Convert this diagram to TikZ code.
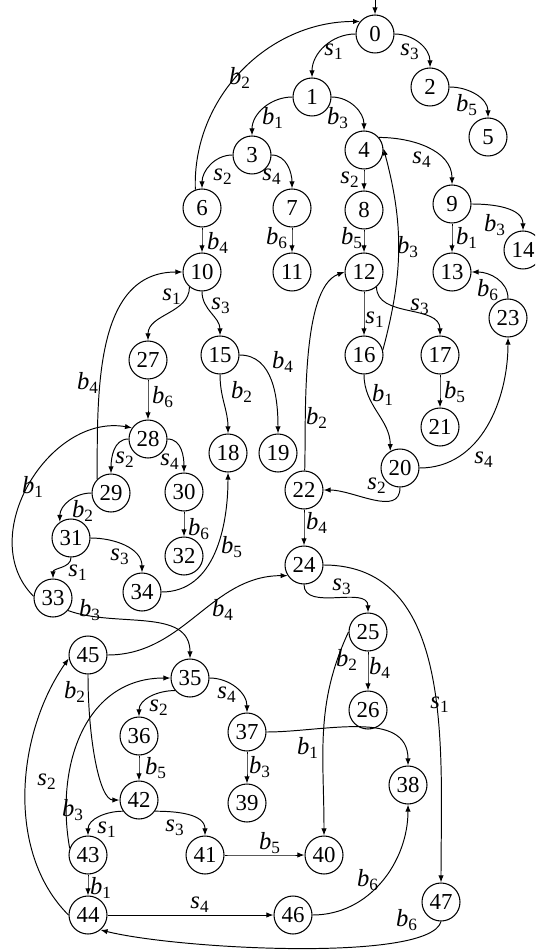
\documentclass[tikz,border=0pt]{standalone}
\usepackage{fontspec}
\setmainfont{Liberation Serif}
\usetikzlibrary{arrows.meta}
\newcommand{\evt}[2]{\textit{#1}\textsubscript{#2}}

\begin{document}
\begin{tikzpicture}[x=0.02cm,y=-0.02cm,
		state/.style={circle,draw,line width=0.6pt,minimum size=0.76cm,inner sep=0pt,font=\fontsize{13}{13}\selectfont},
		edge/.style={-{Latex[length=4pt,width=3pt]},line width=0.55pt},
		lbl/.style={inner sep=0pt,font=\fontsize{14}{14}\selectfont}]
		\clip (0,0) rectangle (535,952);
		\foreach \n/\x/\y in {0/375/34, 1/312/97, 2/430/87, 3/252/155, 4/364/150, 5/488/137,
			6/202/208, 7/292/208, 8/364/210, 9/452/204, 10/202/272, 11/292/272, 12/364/272,
			13/452/272, 14/523/250, 15/220/355, 16/364/355, 17/440/355, 18/228/453, 19/278/453,
			20/400/468, 21/440/427, 22/304/490, 23/508/318, 24/304/565, 25/368/632, 26/368/710,
			27/148/360, 28/148/439, 29/111/493, 30/184/492, 31/71/538, 32/184/556, 33/53/598,
			34/142/592, 35/190/678, 36/139/736, 37/247/732, 38/408/785, 39/247/803, 40/324/855,
			41/205/855, 42/139/800, 43/88/855, 44/88/915, 45/88/655, 46/293/915, 47/441/902}
		\node[state] (n\n) at (\x,\y) {\n};
		\coordinate (start) at (375,0);
		\draw[edge] (start) -- (n0);
		
		% from/to/out/in/looseness
		\foreach \a/\b/\o/\i/\l in {n0/n1/180/90/1, n0/n2/0/90/1, n2/n5/0/90/1, n1/n3/180/90/1,
			n1/n4/0/90/1, n3/n6/180/90/1, n3/n7/0/90/1, n4/n8/-90/90/1, n4.40/n9/0/90/1,
			n6.110/n0.140/92/180/1, n6/n10/-90/90/1, n7/n11/-90/90/1, n8/n12/-90/90/1,
			n9/n13/-90/90/1, n9/n14/0/90/1, n16.15/n4.5/75/-75/1, n12/n16/-90/90/1,
			n12.-50/n17/-90/90/1, n17/n21/-90/90/1, n23/n13/90/0/1, n16/n20.120/-90/90/1,
			n20/n23/0/-90/1, n20/n22/-90/0/1, n22/n12.west/88/200/0.6, n22/n24/-90/90/1,
			n10.-130/n27/-90/90/1, n10/n15/-90/90/1, n29.135/n10.west/90/180/1, n27/n28/-90/90/1,
			n15/n18/-90/90/1, n15/n19/0/90/1, n33.175/n28.145/135/170/1.1, n28/n29/180/90/1,
			n28/n30/0/90/1, n29/n31.125/180/90/1, n30/n32/-90/90/1, n31/n33/-90/90/1,
			n31/n34/0/90/1, n34/n18/0/-90/1, n33.-40/n35/-20/90/1, n45/n24.213/0/180/1,
			n24/n25/-90/90/1, n24/n47/0/90/1, n25.west/n40/-115/90/1, n25/n26/-90/90/1,
			n35.220/n36/180/90/1, n35/n37/0/90/1, n36/n42/-90/90/1, n37/n39/-90/90/1,
			n37/n38/0/90/1, n43.160/n35.west/100/180/1.1, n44.west/n45.190/135/-125/0.9,
			n42.215/n43/180/90/1, n42.-35/n41/0/90/1, n41/n40/0/180/1, n43/n44/-90/90/1,
			n44/n46/0/180/1, n46/n38/0/-90/1}
		\draw[edge] (\a) to[out=\o,in=\i,looseness=\l] (\b);
		\draw[edge] (n45.south) to[out=-90,in=180,out distance=1.3cm,in distance=0.4cm] (n42.west);
		\draw[edge] (n47.south) to[out=-105,in=-14,out distance=0.85cm,in distance=1.6cm] (n44.-50);
		
		% labels
		\foreach \t/\s/\x/\y [count=\k] in {s/1/334/52, s/3/410/52, b/5/467/105, b/1/273/118,
			b/3/338/118, b/2/240/78, s/2/223/177, s/4/272/177, s/2/350/180, s/4/422/160,
			b/3/495/225, b/4/218/243, b/6/277/238, b/5/352/238, b/3/408/247, b/1/467/238,
			b/6/488/290, s/1/375/320, s/3/420/307, b/5/455/392, b/1/383/395, b/2/317/418,
			s/4/484/460, s/2/377/486, s/1/172/297, s/3/221/306, b/4/88/383, b/6/163/397,
			b/2/242/392, b/4/283/362, b/1/33/487, s/2/125/460, s/4/170/462, b/2/83/511,
			b/6/199/529, s/3/120/557, s/1/78/573, b/5/232/547, b/4/317/523, b/3/90/610,
			b/4/223/610, s/3/342/587, b/2/347/660, b/4/380/668, s/1/440/705, b/1/308/748,
			b/2/75/692, s/2/159/708, s/4/227/695, b/5/156/768, b/3/260/767, s/2/47/782,
			b/3/73/810, s/1/107/830, s/3/175/828, b/5/270/843, b/1/101/888, s/4/200/905,
			b/6/368/880, b/6/407/920}
		\node[lbl] (lab\k) at (\x,\y) {\evt{\t}{\s}};
	\end{tikzpicture}
\end{document}
